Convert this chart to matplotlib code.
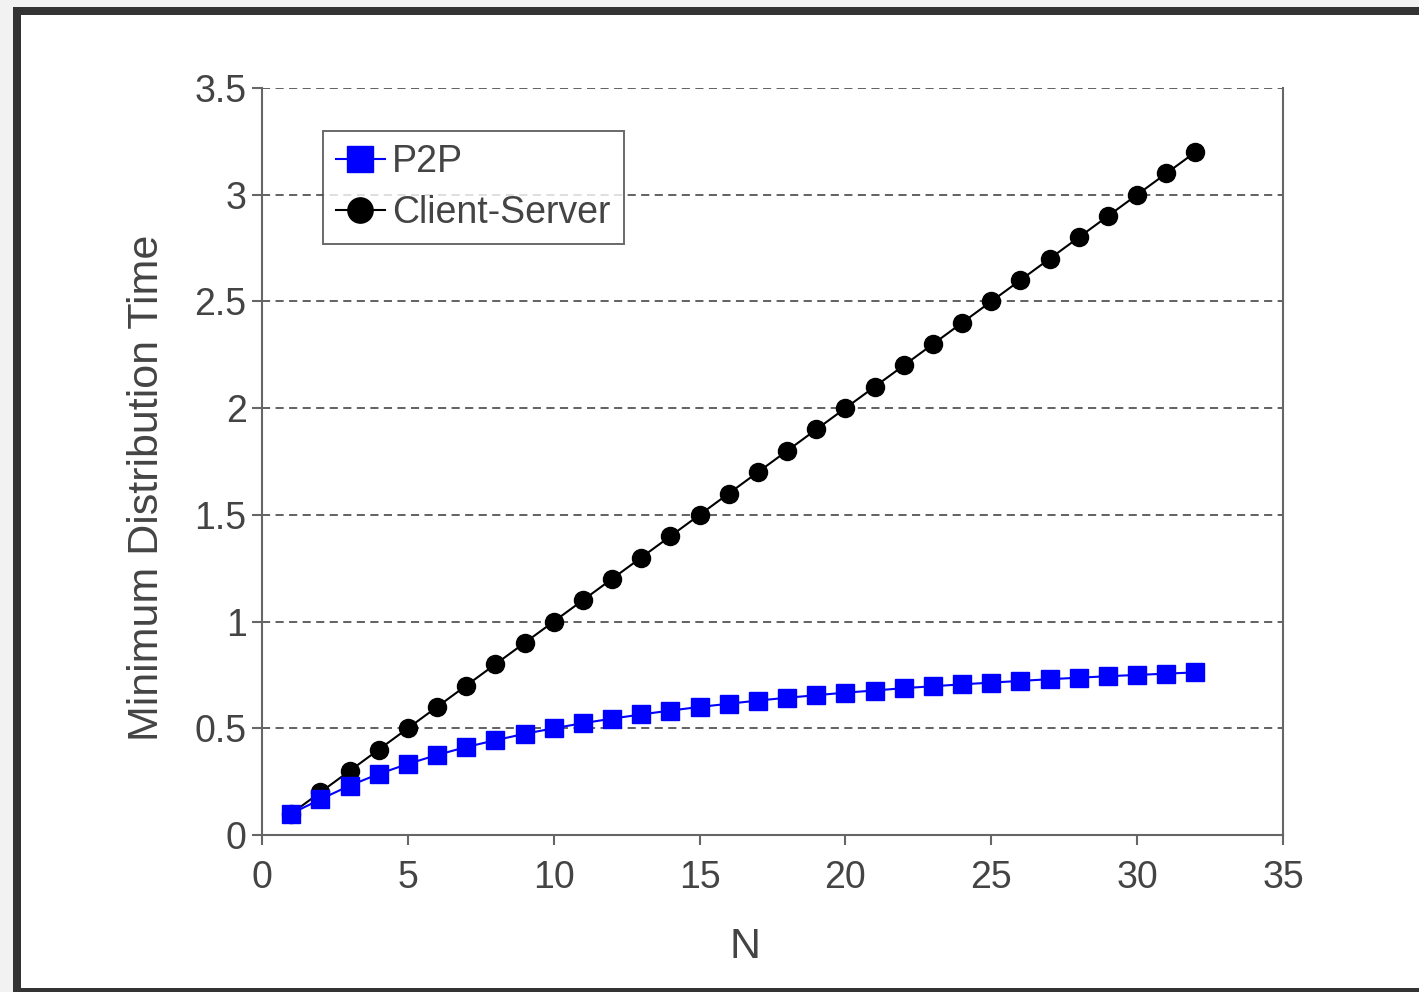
import matplotlib.pyplot as plt
from matplotlib.patches import Rectangle

plt.rcParams["font.family"] = ["Liberation Sans", "DejaVu Sans"]

n_values = list(range(1, 33))
client_server = [0.1, 0.2, 0.3, 0.4, 0.5, 0.6, 0.7, 0.8, 0.9, 1.0, 1.1, 1.2, 1.3, 1.4, 1.5, 1.6,
                 1.7, 1.8, 1.9, 2.0, 2.1, 2.2, 2.3, 2.4, 2.5, 2.6, 2.7, 2.8, 2.9, 3.0, 3.1, 3.2]
p2p = [0.1, 0.167, 0.231, 0.286, 0.333, 0.375, 0.412, 0.444, 0.474, 0.5, 0.524, 0.545,
       0.565, 0.583, 0.6, 0.615, 0.63, 0.643, 0.655, 0.667, 0.677, 0.688, 0.697, 0.706,
       0.714, 0.722, 0.73, 0.737, 0.744, 0.75, 0.756, 0.762]
x_ticks = [0, 5, 10, 15, 20, 25, 30, 35]
y_ticks = [0, 0.5, 1, 1.5, 2, 2.5, 3, 3.5]
y_tick_labels = ["0", "0.5", "1", "1.5", "2", "2.5", "3", "3.5"]

W, H = 1419, 992
fig = plt.figure(figsize=(W / 100, H / 100), dpi=100)
fig.patch.set_facecolor("white")

# screenshot frame
def px_rect(x0, y0, x1, y1, color):
  fig.add_artist(Rectangle((x0 / W, 1 - y1 / H), (x1 - x0) / W, (y1 - y0) / H,
                           transform=fig.transFigure, color=color, lw=0, zorder=-5))

px_rect(0, 0, W, 7, "#f2f2f2")
px_rect(0, 0, 13, H, "#f2f2f2")
px_rect(13, 7, W, 15, "#333333")
px_rect(13, 7, 21, H, "#333333")
px_rect(13, 988, W, H, "#333333")

ax = fig.add_axes([262 / W, 1 - 835 / H, (1283 - 262) / W, (835 - 88) / H])

text_color = "#444444"
spine_color = "#666666"

cs_line, = ax.plot(n_values, client_server, color="black", lw=1.5, marker="o",
                   markersize=13, markerfacecolor="black", markeredgecolor="black",
                   zorder=3, label="Client-Server")
p2p_line, = ax.plot(n_values, p2p, color="#0000ff", lw=1.5, marker="s",
                    markersize=13, markerfacecolor="#0000ff", markeredgecolor="#0000ff",
                    zorder=4, label="P2P")

ax.set_xlim(0, 35)
ax.set_ylim(0, 3.5)
ax.set_xticks(x_ticks)
ax.set_yticks(y_ticks)
ax.set_yticklabels(y_tick_labels)

ax.yaxis.grid(True, linestyle=(0, (4.5, 3)), color="#555555", lw=1.3)
ax.set_axisbelow(True)

ax.spines["top"].set_visible(False)
for s in ["left", "bottom", "right"]:
  ax.spines[s].set_color(spine_color)
  ax.spines[s].set_linewidth(1.5)

ax.tick_params(axis="both", direction="out", length=7, width=1.5, color=spine_color,
               labelsize=27, labelcolor=text_color)
ax.tick_params(axis="x", pad=11)
ax.tick_params(axis="y", pad=4)

ax.set_xlabel("N", fontsize=31, color=text_color, labelpad=22)
ax.set_ylabel("Minimum Distribution Time", fontsize=31, color=text_color, labelpad=20)
ax.xaxis.label.set_x(0.473)
ax.yaxis.label.set_y(0.4645)

leg = ax.legend(handles=[p2p_line, cs_line], loc="upper left",
                bbox_to_anchor=(0.0597, 0.9424), fontsize=27, frameon=True,
                fancybox=False, edgecolor="#444444", handlelength=1.3,
                handletextpad=0.2, borderpad=0.35, labelspacing=0.4,
                borderaxespad=0, markerscale=1.4)
leg.get_frame().set_linewidth(1.4)
for t in leg.get_texts():
  t.set_color(text_color)

fig.savefig("out.png", dpi=100)
